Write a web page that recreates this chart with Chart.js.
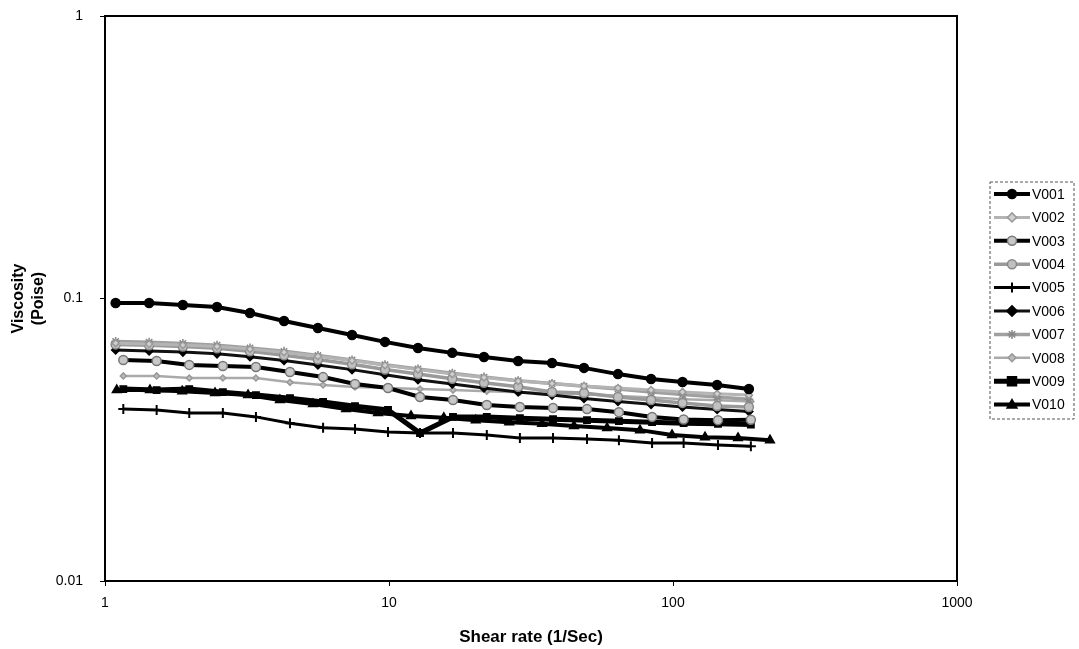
<!DOCTYPE html>
<html>
<head>
<meta charset="utf-8">
<script src="https://cdn.jsdelivr.net/npm/chart.js@4.4.0/dist/chart.umd.min.js"></script>
<style>
  html, body { margin: 0; padding: 0; background: #fff; }
</style>
</head>
<body>
<canvas id="chart" width="1079" height="649"></canvas>
<script>
// shear rates (1/Sec)
const shearA = [1.09, 1.43, 1.88, 2.48, 3.24, 4.27, 5.62, 7.41, 9.68, 12.65, 16.7, 21.6, 28.5, 37.5, 48.6, 64.0, 83.7, 108, 143, 185];
const shearB = [1.16, 1.52, 1.98, 2.60, 3.40, 4.48, 5.86, 7.59, 9.92, 12.86, 16.8, 22.1, 28.9, 37.8, 49.8, 64.5, 84.4, 109, 144, 188];
const shearC = [1.10, 1.44, 1.87, 2.44, 3.19, 4.13, 5.40, 7.06, 9.15, 11.95, 15.6, 20.2, 26.5, 34.6, 44.8, 58.6, 76.5, 99.2, 129.6, 169.4, 219.5];

// viscosity (Poise)
const v001 = [0.0964, 0.0964, 0.0948, 0.0933, 0.0889, 0.0832, 0.0786, 0.0743, 0.0702, 0.0668, 0.0642, 0.0621, 0.0601, 0.0591, 0.0568, 0.0540, 0.0519, 0.0506, 0.0494, 0.0478];
const v002 = [0.0695, 0.0690, 0.0684, 0.0676, 0.0662, 0.0645, 0.0625, 0.0603, 0.0580, 0.0560, 0.0540, 0.0525, 0.0510, 0.0500, 0.0490, 0.0482, 0.0474, 0.0467, 0.0460, 0.0455];
const v003 = [0.0606, 0.0601, 0.0582, 0.0577, 0.0572, 0.0549, 0.0527, 0.0498, 0.0482, 0.0448, 0.0437, 0.0420, 0.0413, 0.0410, 0.0406, 0.0396, 0.0381, 0.0373, 0.0371, 0.0372];
const v004 = [0.0688, 0.0683, 0.0676, 0.0666, 0.0650, 0.0630, 0.0608, 0.0585, 0.0561, 0.0540, 0.0520, 0.0503, 0.0487, 0.0467, 0.0463, 0.0448, 0.0437, 0.0427, 0.0416, 0.0413];
const v005 = [0.0406, 0.0403, 0.0393, 0.0393, 0.0381, 0.0362, 0.0349, 0.0345, 0.0337, 0.0334, 0.0334, 0.0329, 0.0321, 0.0321, 0.0318, 0.0315, 0.0308, 0.0308, 0.0303, 0.0300];
const v006 = [0.0657, 0.0652, 0.0646, 0.0637, 0.0622, 0.0603, 0.0582, 0.0560, 0.0537, 0.0516, 0.0498, 0.0482, 0.0467, 0.0455, 0.0443, 0.0432, 0.0422, 0.0413, 0.0405, 0.0398];
const v007 = [0.0705, 0.0700, 0.0693, 0.0683, 0.0668, 0.0650, 0.0628, 0.0606, 0.0583, 0.0563, 0.0544, 0.0527, 0.0512, 0.0500, 0.0489, 0.0478, 0.0467, 0.0457, 0.0448, 0.0440];
const v008 = [0.0532, 0.0532, 0.0523, 0.0523, 0.0523, 0.0505, 0.0494, 0.0486, 0.0482, 0.0478, 0.0474, 0.0470, 0.0466, 0.0462, 0.0458, 0.0452, 0.0446, 0.0440, 0.0436, 0.0432];
const v009 = [0.0478, 0.0474, 0.0478, 0.0466, 0.0455, 0.0444, 0.0430, 0.0416, 0.0403, 0.0334, 0.0381, 0.0381, 0.0377, 0.0374, 0.0371, 0.0368, 0.0365, 0.0362, 0.0360, 0.0358];
const v010 = [0.0474, 0.0474, 0.0470, 0.0463, 0.0455, 0.0437, 0.0423, 0.0406, 0.0393, 0.0384, 0.0378, 0.0371, 0.0365, 0.0360, 0.0354, 0.0348, 0.0342, 0.0329, 0.0323, 0.0321, 0.0315];

const xTicks = [1, 10, 100, 1000];
const yTicks = [0.01, 0.1, 1];
const xTickLabels = ['1', '10', '100', '1000'];
const yTickLabels = ['0.01', '0.1', '1'];

const FONT = "'Liberation Sans', Arial, sans-serif";

function pts(xs, ys) {
    return xs.map((x, i) => ({ x: x, y: ys[i] }));
}

// name, shear, values, line colour, width, marker, radius, marker fill, marker edge
const series = [
    ['V001', shearA, v001, '#000', 4, 'circle', 4.5, '#000', '#000'],
    ['V002', shearA, v002, '#b4b4b4', 3, 'rectRot', 3.5, '#d0d0d0', '#999'],
    ['V003', shearB, v003, '#000', 4, 'circle', 4.5, '#c8c8c8', '#777'],
    ['V004', shearA, v004, '#9a9a9a', 3.5, 'circle', 4.5, '#c0c0c0', '#888'],
    ['V005', shearB, v005, '#000', 3, 'cross', 5, '#000', '#000'],
    ['V006', shearA, v006, '#111', 3, 'rectRot', 4, '#000', '#000'],
    ['V007', shearA, v007, '#a0a0a0', 3.5, 'star', 4.5, '#aaa', '#888'],
    ['V008', shearB, v008, '#aaaaaa', 2.5, 'rectRot', 3, '#bbb', '#999'],
    ['V009', shearB, v009, '#000', 5, 'rect', 4.5, '#000', '#000'],
    ['V010', shearC, v010, '#000', 4, 'triangle', 5, '#000', '#000']
];

const datasets = series.map(s => ({
    label: s[0],
    data: pts(s[1], s[2]),
    borderColor: s[3],
    borderWidth: s[4],
    pointStyle: s[5],
    pointRadius: s[6],
    pointBackgroundColor: s[7],
    pointBorderColor: s[8],
    pointBorderWidth: s[5] === 'cross' ? 2 : 1.5,
    tension: 0,
    fill: false
}));

function drawMarker(ctx, style, r, x, y) {
    ctx.beginPath();
    if (style === 'circle') {
        ctx.arc(x, y, r, 0, Math.PI * 2);
        ctx.fill(); ctx.stroke();
    } else if (style === 'rect') {
        ctx.rect(x - r, y - r, r * 2, r * 2);
        ctx.fill(); ctx.stroke();
    } else if (style === 'rectRot') {
        ctx.moveTo(x, y - r * 1.3); ctx.lineTo(x + r * 1.3, y);
        ctx.lineTo(x, y + r * 1.3); ctx.lineTo(x - r * 1.3, y);
        ctx.closePath(); ctx.fill(); ctx.stroke();
    } else if (style === 'triangle') {
        ctx.moveTo(x, y - r); ctx.lineTo(x + r, y + r * 0.7); ctx.lineTo(x - r, y + r * 0.7);
        ctx.closePath(); ctx.fill(); ctx.stroke();
    } else if (style === 'cross') {
        ctx.moveTo(x, y - r); ctx.lineTo(x, y + r);
        ctx.stroke();
    } else {
        for (let k = 0; k < 4; k++) {
            const a = k * Math.PI / 4;
            ctx.moveTo(x - Math.cos(a) * r, y - Math.sin(a) * r);
            ctx.lineTo(x + Math.cos(a) * r, y + Math.sin(a) * r);
        }
        ctx.stroke();
    }
}

// frame round the plot area + Excel style legend box
const framePlugin = {
    id: 'frame',
    afterDraw(chart) {
        const ctx = chart.ctx;
        const a = chart.chartArea;
        ctx.save();
        ctx.strokeStyle = '#000';
        ctx.lineWidth = 2;
        ctx.strokeRect(a.left, a.top, a.right - a.left, a.bottom - a.top);

        const bx = 990, by = 182, bw = 84, bh = 237, step = 23.4;
        ctx.lineWidth = 1;
        ctx.strokeStyle = '#555';
        ctx.setLineDash([3, 2]);
        ctx.strokeRect(bx, by, bw, bh);
        ctx.setLineDash([]);

        ctx.font = '14px ' + FONT;
        ctx.textBaseline = 'middle';
        ctx.fillStyle = '#000';
        chart.data.datasets.forEach((ds, i) => {
            const y = by + 12 + i * step;
            ctx.strokeStyle = ds.borderColor;
            ctx.lineWidth = ds.borderWidth;
            ctx.beginPath();
            ctx.moveTo(994, y); ctx.lineTo(1030, y);
            ctx.stroke();
            ctx.fillStyle = ds.pointBackgroundColor;
            ctx.strokeStyle = ds.pointBorderColor;
            ctx.lineWidth = ds.pointBorderWidth;
            drawMarker(ctx, ds.pointStyle, ds.pointRadius, 1012, y);
            ctx.fillStyle = '#000';
            ctx.fillText(ds.label, 1032, y + 1);
        });
        ctx.restore();
    }
};

new Chart(document.getElementById('chart'), {
    type: 'line',
    data: { datasets: datasets },
    options: {
        responsive: false,
        animation: false,
        layout: { padding: { top: 16, right: 122, bottom: 0, left: 0 } },
        plugins: {
            legend: { display: false },
            tooltip: { enabled: false }
        },
        scales: {
            x: {
                type: 'logarithmic',
                min: 1,
                max: 1000,
                afterBuildTicks: s => { s.ticks = xTicks.map(v => ({ value: v })); },
                afterFit: s => { s.height = 68; s.paddingLeft = 0; s.paddingRight = 0; },
                ticks: {
                    callback: (v, i) => xTickLabels[i],
                    font: { family: FONT, size: 14 },
                    color: '#000',
                    padding: 9,
                    maxRotation: 0
                },
                grid: { drawOnChartArea: false, tickLength: 5, color: '#000' },
                border: { color: '#000', width: 2 },
                title: {
                    display: true,
                    text: 'Shear rate (1/Sec)',
                    font: { family: FONT, size: 17, weight: 'bold' },
                    color: '#000',
                    padding: { top: 4, bottom: 1 }
                }
            },
            y: {
                type: 'logarithmic',
                min: 0.01,
                max: 1,
                afterBuildTicks: s => { s.ticks = yTicks.map(v => ({ value: v })); },
                afterFit: s => { s.width = 105; s.paddingTop = 0; s.paddingBottom = 0; },
                ticks: {
                    callback: (v, i) => yTickLabels[i],
                    font: { family: FONT, size: 14 },
                    color: '#000',
                    padding: 17
                },
                grid: { drawOnChartArea: false, tickLength: 5, color: '#000' },
                border: { color: '#000', width: 2 },
                title: {
                    display: true,
                    text: ['Viscosity', '(Poise)'],
                    font: { family: FONT, size: 16, weight: 'bold', lineHeight: 1.25 },
                    color: '#000',
                    padding: { top: 9, bottom: 4 }
                }
            }
        }
    },
    plugins: [framePlugin]
});
</script>
</body>
</html>
